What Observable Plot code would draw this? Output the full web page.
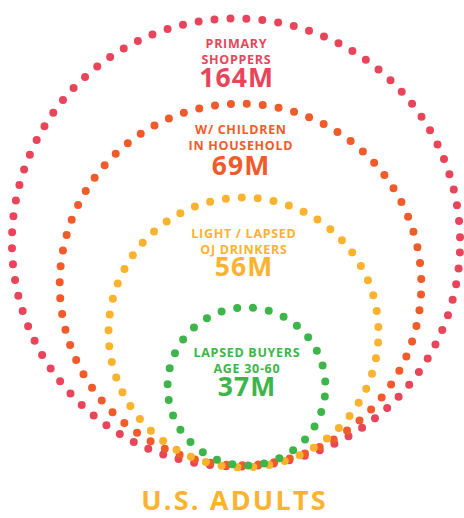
<!DOCTYPE html>
<html><head><meta charset="utf-8">
<script src="https://cdn.jsdelivr.net/npm/d3@7"></script>
<script src="https://cdn.jsdelivr.net/npm/@observablehq/plot@0.6"></script>
<style>
body{margin:0;background:#fff;}
#chart svg{display:block;}
</style></head><body>
<div id="chart"></div>
<script>
// ---- data ----
const categories = ["Primary Shoppers", "W/ Children in Household", "Light / Lapsed OJ Drinkers", "Lapsed Buyers Age 30-60"];
const labelLines = [["PRIMARY", "SHOPPERS"], ["W/ CHILDREN", "IN HOUSEHOLD"], ["LIGHT / LAPSED", "OJ DRINKERS"], ["LAPSED BUYERS", "AGE 30-60"]];
const values = [164, 69, 56, 37];
const valueLabels = ["164M", "69M", "56M", "37M"];
const caption = "U.S. ADULTS";

// ---- styles / layout ----
const colors = ["#E8455A", "#F15A29", "#FBB32F", "#3DB54A"];
const domainAsc = values.slice().sort((a, b) => a - b); // 37,56,69,164
const xRange = [246, 243, 240, 235.5];
const yRange = [386, 332, 284, 242];
const rRange = [31, 53, 71, 88].map(n => 16 * n / (2 * Math.PI));
const labelDy = [-179, -135, -79, -14];
const numberDy = [-156, -110, -57, 9];
const font = "'Open Sans', sans-serif";

const rows = categories.map((c, i) => ({
  name: c, value: values[i], label: labelLines[i].join("\n"), num: valueLabels[i]
}));

const marks = [
  Plot.dot(rows, {
    x: "value", y: "value", r: "value", stroke: "name",
    fill: "none", strokeWidth: 8, strokeLinecap: "round", strokeDasharray: "0 16", strokeDashoffset: 6
  })
];
rows.forEach((row, i) => {
  marks.push(Plot.text([row], {
    x: "value", y: "value", text: "label", fill: "name",
    lineAnchor: "bottom", lineHeight: 1.28, dy: labelDy[i], dx: 0.4,
    fontSize: 12.5, fontWeight: 700, fontFamily: font, textAnchor: "middle"
  }));
  marks.push(Plot.text([row], {
    x: "value", y: "value", text: "num", fill: "name",
    lineAnchor: "bottom", dy: numberDy[i], dx: 0.6,
    fontSize: 26.5, fontWeight: 700, fontFamily: font, textAnchor: "middle"
  }));
});
marks.push(Plot.text([caption], {
  text: d => d, frameAnchor: "bottom", lineAnchor: "bottom", dy: -9, dx: 2,
  fill: colors[2], fontSize: 27, fontWeight: 700, fontFamily: font
}));

const chart = Plot.plot({
  width: 464, height: 518, margin: 0,
  style: {background: "#fff", overflow: "visible"},
  x: {type: "linear", domain: domainAsc, range: xRange, axis: null},
  y: {type: "linear", domain: domainAsc, range: yRange, axis: null},
  r: {type: "linear", domain: domainAsc, range: rRange},
  color: {type: "ordinal", domain: categories, range: colors},
  marks
});
// letter-spacing to approximate the wide geometric typeface of the original
chart.querySelectorAll("g[font-size]").forEach(g => {
  const fs = +g.getAttribute("font-size");
  g.style.letterSpacing = fs < 14 ? "0.7px" : fs < 27 ? "1.1px" : "2.2px";
});
document.getElementById("chart").appendChild(chart);
</script>
</body></html>
